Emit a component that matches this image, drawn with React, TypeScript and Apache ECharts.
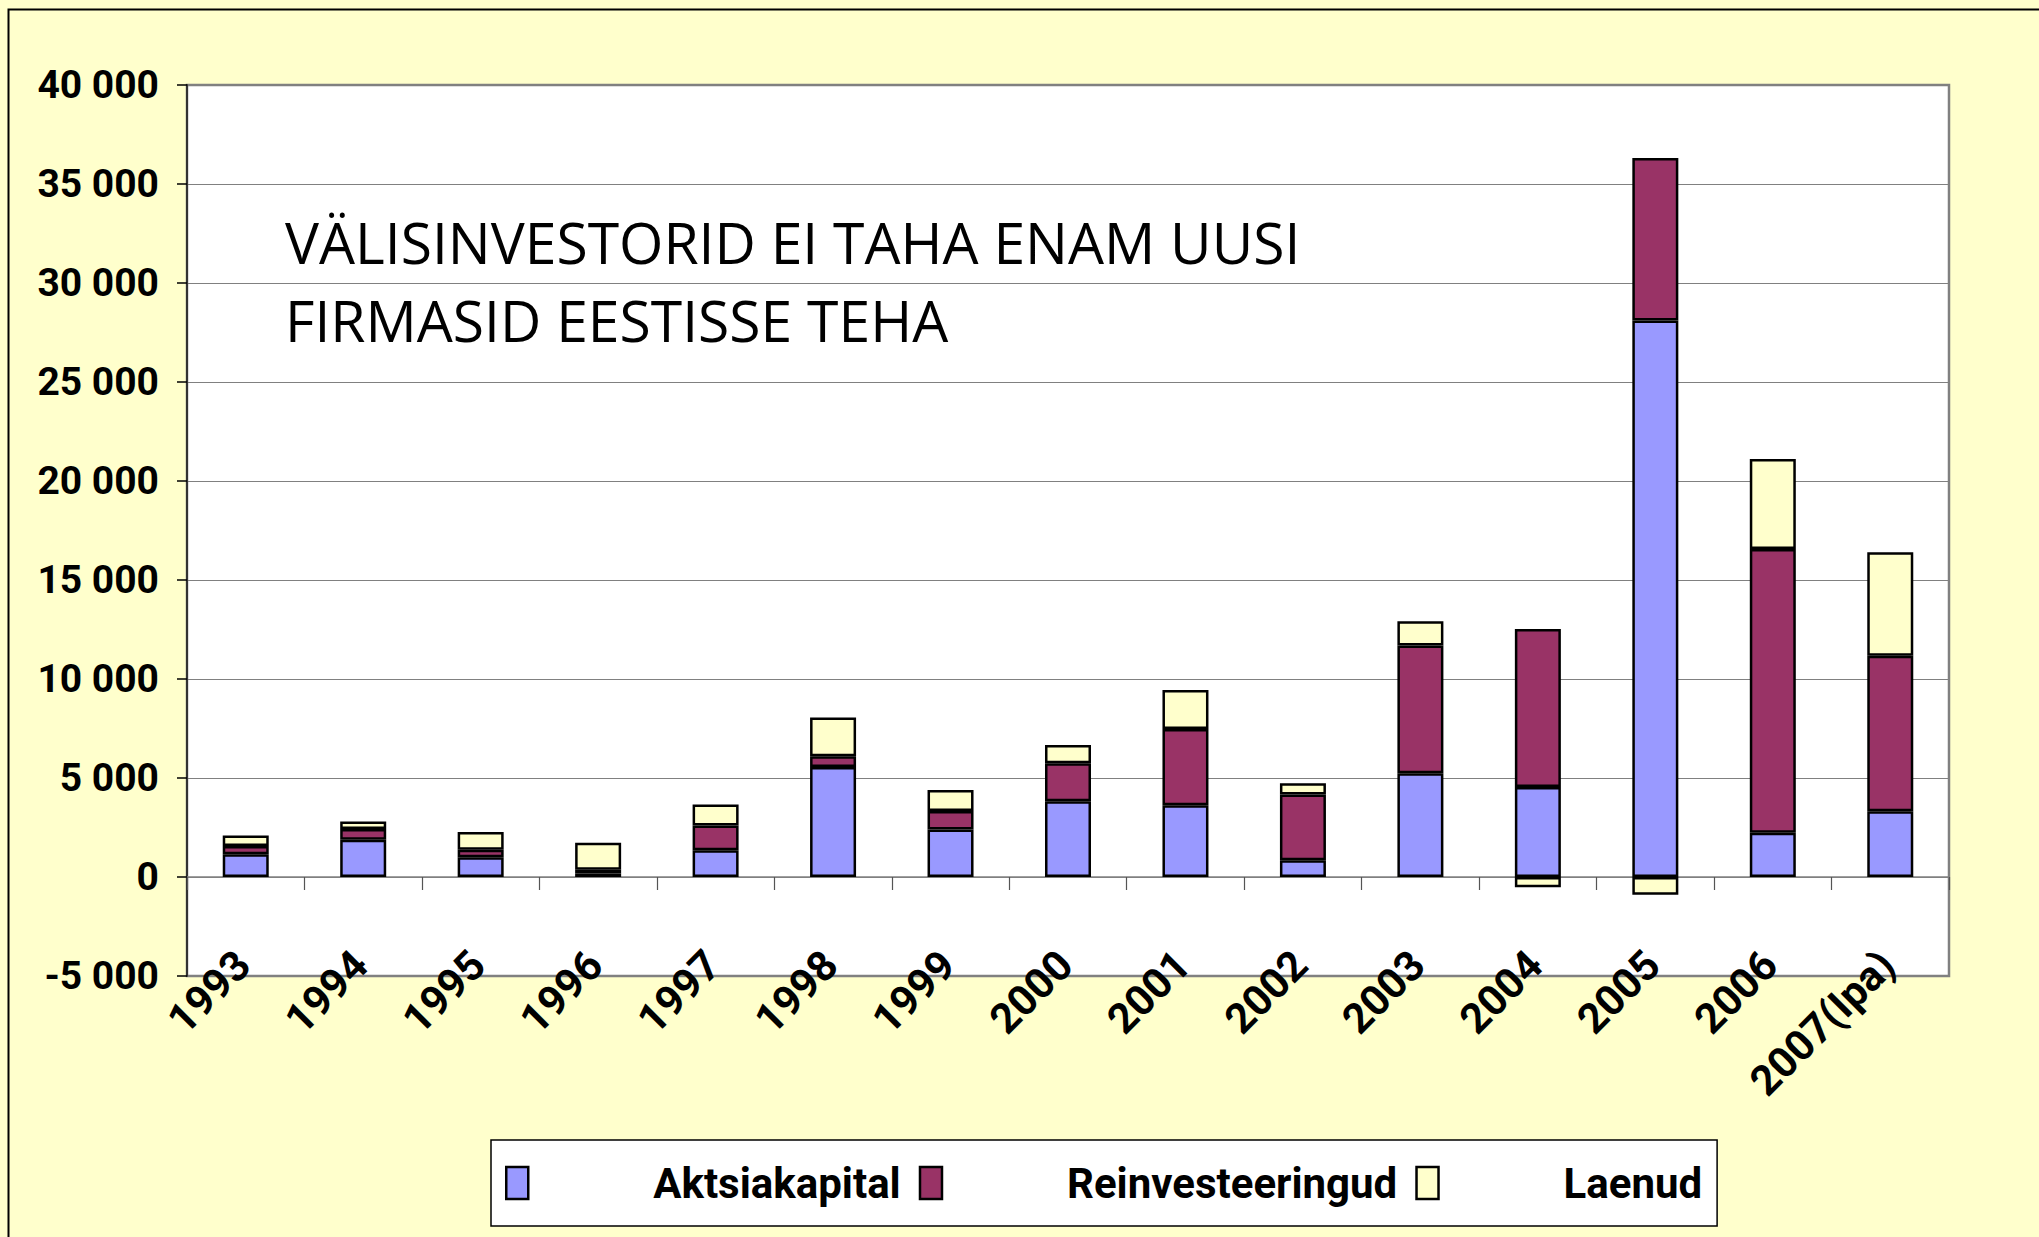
import React, { useEffect, useRef } from "react";
import * as echarts from "echarts";

const categories = ["1993", "1994", "1995", "1996", "1997", "1998", "1999", "2000", "2001", "2002", "2003", "2004", "2005", "2006", "2007(Ipa)"];
const aktsiakapital = [1150, 1880, 1000, 180, 1350, 5550, 2400, 3830, 3630, 850, 5240, 4540, 28100, 2240, 3320];
const reinvesteeringud = [420, 550, 380, 190, 1250, 550, 930, 1910, 3850, 3320, 6450, 7980, 8210, 14330, 7860];
const laenud = [530, 370, 890, 1360, 1060, 1950, 1060, 930, 1960, 560, 1230, -520, -900, 4540, 5220];
const seriesNames = ["Aktsiakapital", "Reinvesteeringud", "Laenud"];
const seriesColors = ["#9999FF", "#993366", "#FFFFCC"];
const yMin = -5000;
const yMax = 40000;
const yInterval = 5000;
const annotationLines = ["VÄLISINVESTORID EI TAHA ENAM UUSI", "FIRMASID EESTISSE TEHA"];

const NARROW = 'Roboto, "Liberation Sans", sans-serif';

function fmt(v: number): string {
  if (v === 0) return "0";
  const s = Math.abs(v).toString().replace(/\B(?=(\d{3})+(?!\d))/g, " ");
  return (v < 0 ? "-" : "") + s;
}

export default function App() {
  const ref = useRef<HTMLDivElement>(null);
  useEffect(() => {
    document.body.style.margin = "0";
    const chart = echarts.init(ref.current!, undefined, { renderer: "svg" });
    const dataSets = [aktsiakapital, reinvesteeringud, laenud];
    chart.setOption({
      animation: false,
      backgroundColor: "#FFFFCC",
      grid: {
        left: 187,
        right: 90,
        top: 85,
        bottom: 261,
        show: true,
        backgroundColor: "#FFFFFF",
        borderColor: "#808080",
        borderWidth: 2.5,
      },
      xAxis: [
        {
          type: "category",
          data: categories,
          position: "bottom",
          axisLine: { onZero: true, lineStyle: { color: "#808080", width: 1.5 } },
          axisTick: { show: true, length: 13, lineStyle: { color: "#555", width: 1.2 } },
          axisLabel: { show: false },
          splitLine: { show: false },
        },
        {
          type: "category",
          data: categories,
          position: "bottom",
          axisLine: { show: false, onZero: false },
          axisTick: { show: false },
          axisLabel: {
            show: true,
            interval: 0,
            rotate: 45,
            margin: -21,
            padding: [0, 4, 0, 0],
            fontSize: 42,
            fontWeight: "bold",
            fontFamily: NARROW,
            color: "#000",
          },
        },
      ],
      yAxis: {
        type: "value",
        min: yMin,
        max: yMax,
        interval: yInterval,
        axisLine: { show: true, lineStyle: { color: "#333", width: 2 } },
        axisTick: { show: true, length: 10, lineStyle: { color: "#000", width: 1.5 } },
        splitLine: { show: true, lineStyle: { color: "#808080", width: 1.2 } },
        axisLabel: {
          formatter: (v: number) => fmt(v),
          margin: 28,
          fontSize: 39,
          fontWeight: "bold",
          fontFamily: NARROW,
          color: "#000",
        },
      },
      legend: {
        left: 491,
        top: 1140,
        orient: "horizontal",
        icon: "rect",
        itemWidth: 22,
        itemHeight: 32,
        itemGap: 18,
        padding: [22, 15, 22, 14],
        backgroundColor: "#FFFFFF",
        borderColor: "#000",
        borderWidth: 1.5,
        itemStyle: { borderColor: "#000", borderWidth: 2.5 },
        textStyle: {
          fontSize: 42,
          fontWeight: "bold",
          fontFamily: NARROW,
          color: "#000",
          padding: [0, 0, 0, 120],
          lineHeight: 34,
          height: 34,
        },
        data: seriesNames,
      },
      graphic: [
        {
          type: "rect",
          shape: { x: 8.5, y: 9.5, width: 2200, height: 1400 },
          style: { fill: "none", stroke: "#000", lineWidth: 2 },
          silent: true,
        },
        {
          type: "text",
          x: 285,
          y: 242,
          style: {
            text: annotationLines[0],
            fontFamily: '"Open Sans", "Noto Sans", sans-serif',
            fontSize: 57,
            fill: "#000",
            verticalAlign: "middle",
          },
        },
        {
          type: "text",
          x: 285,
          y: 320,
          style: {
            text: annotationLines[1],
            fontFamily: '"Open Sans", "Noto Sans", sans-serif',
            fontSize: 57,
            fill: "#000",
            verticalAlign: "middle",
          },
        },
      ],
      series: seriesNames.map((name, i) => ({
        name,
        type: "bar",
        stack: "total",
        xAxisIndex: 0,
        barWidth: 46,
        data: dataSets[i],
        itemStyle: { color: seriesColors[i], borderColor: "#000", borderWidth: 2.5 },
        emphasis: { disabled: true },
      })),
    });
    return () => chart.dispose();
  }, []);
  return <div ref={ref} style={{ width: 2039, height: 1237 }} />;
}
